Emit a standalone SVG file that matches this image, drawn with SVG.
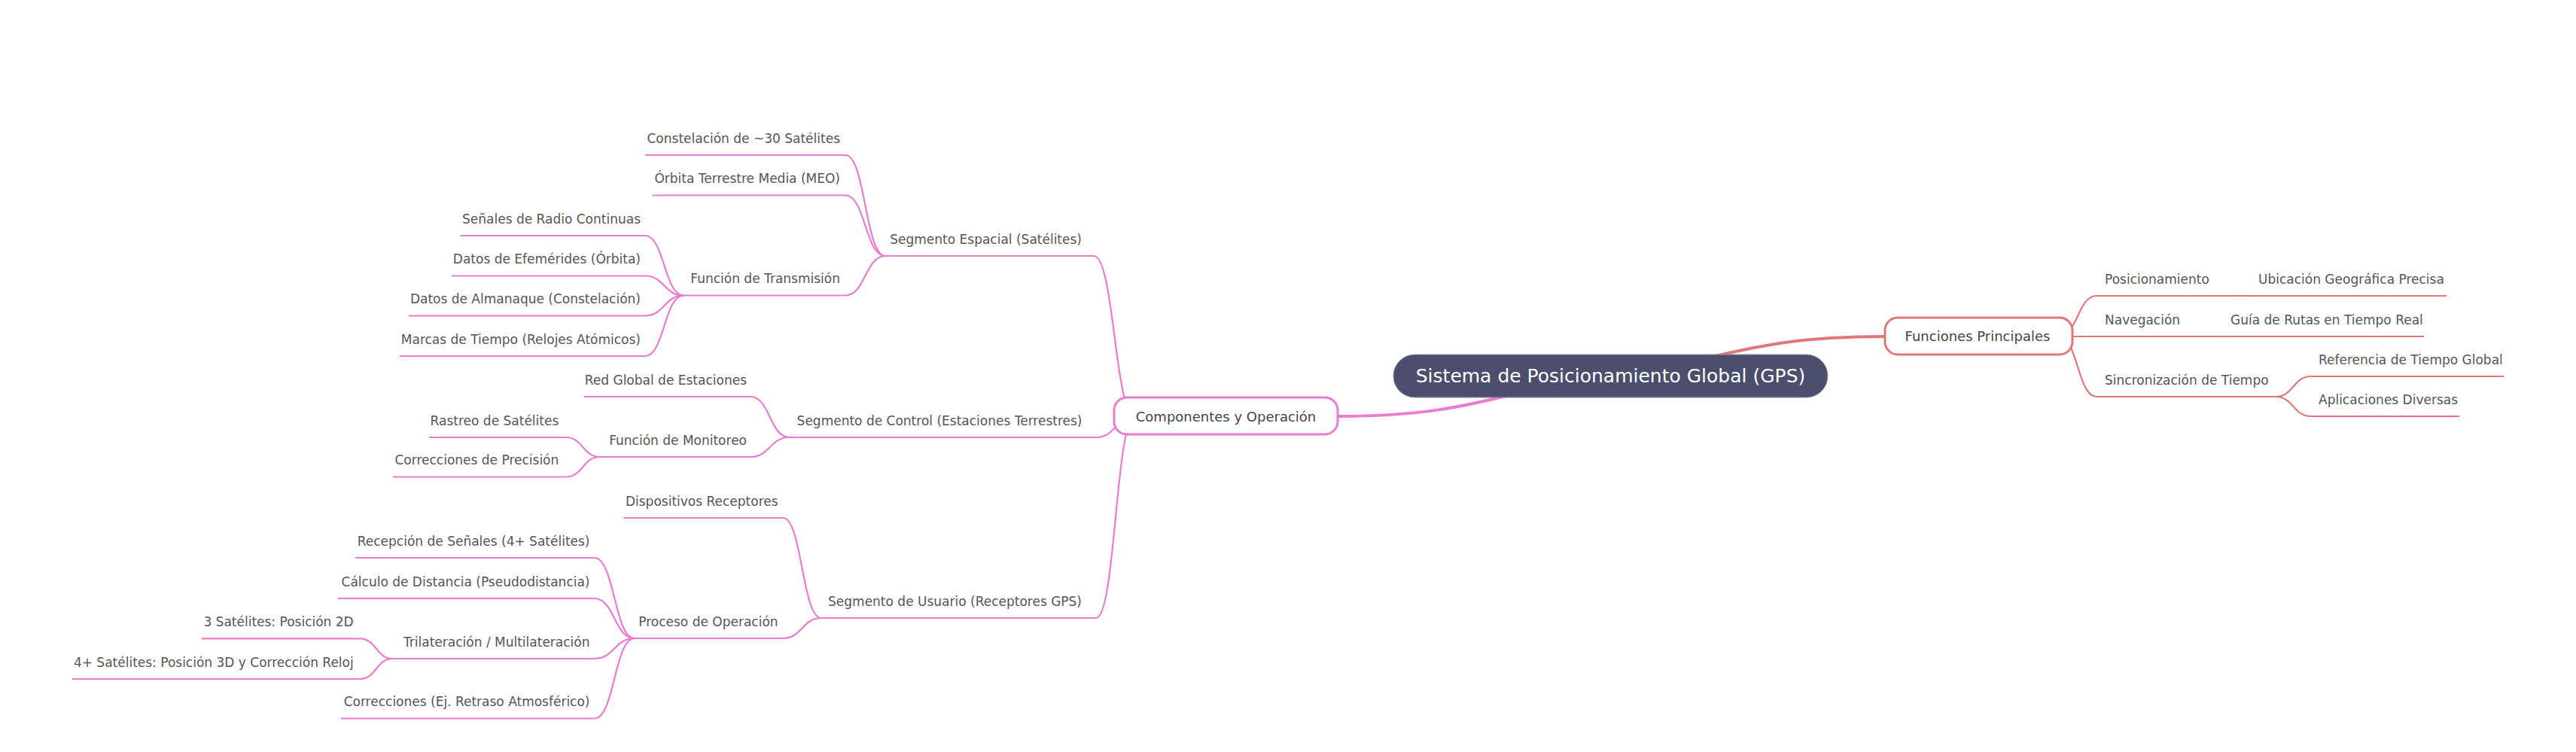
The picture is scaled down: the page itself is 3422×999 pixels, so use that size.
<svg xmlns="http://www.w3.org/2000/svg" width="3422" height="999" viewBox="0 0 3422 999">
<style>
  text { font-family: "DejaVu Sans", "Liberation Sans", sans-serif; fill: #555; font-size: 17px; }
  .l { text-anchor: end; }
  .c { text-anchor: middle; }
  .pk { stroke: #e97cd0; fill: none; stroke-width: 2.2; }
  .rd { stroke: #e07878; fill: none; stroke-width: 2.2; }
  .main { stroke-width: 4; }
  .box { fill: #fff; stroke-width: 3; }
  .bt { font-size: 18px; fill: #444; }
  .rt { font-size: 25px; fill: #fff; }
</style>
<rect width="3422" height="999" fill="#fff"/>
<g id="connectors">
  <path class="pk main" d="M2223 499.5 C2000 499.5 2000 553 1777 553"/>
  <path class="rd main" d="M2051 499.5 C2277.5 499.5 2277.5 447 2504 447"/>
  <!-- Funciones children -->
  <path class="rd" d="M2735 447 C2760 447 2760 393 2785 393"/>
  <path class="rd" d="M2735 447 L2753 447"/>
  <path class="rd" d="M2735 447 C2760 447 2760 527 2785 527"/>
  <path class="rd" d="M2960 393 L2985 393"/>
  <path class="rd" d="M2950 447 L2958 447"/>
  <path class="rd" d="M3023 527 C3046.5 527 3046.5 500 3070 500"/>
  <path class="rd" d="M3023 527 C3046.5 527 3046.5 553 3070 553"/>
  <!-- Componentes children -->
  <path class="pk" d="M1453 340 C1480.5 340 1480.5 553 1508 553"/>
  <path class="pk" d="M1456.6 581 C1482 581 1482 553 1508 553"/>
  <path class="pk" d="M1456 821 C1482 821 1482 553 1508 553"/>
  <!-- Segmento Espacial children -->
  <path class="pk" d="M1123 206 C1149.5 206 1149.5 340 1176 340"/>
  <path class="pk" d="M1123 259.5 C1149.5 259.5 1149.5 340 1176 340"/>
  <path class="pk" d="M1123 392.5 C1149.5 392.5 1149.5 340 1176 340"/>
  <!-- Funcion de Transmision children -->
  <path class="pk" d="M857 313 C882.5 313 882.5 392.5 908 392.5"/>
  <path class="pk" d="M857 366.5 C882.5 366.5 882.5 392.5 908 392.5"/>
  <path class="pk" d="M857 419.5 C882.5 419.5 882.5 392.5 908 392.5"/>
  <path class="pk" d="M857 473 C882.5 473 882.5 392.5 908 392.5"/>
  <!-- Segmento de Control children -->
  <path class="pk" d="M997 527 C1022.7 527 1022.7 581 1048.5 581"/>
  <path class="pk" d="M997 607 C1022.7 607 1022.7 581 1048.5 581"/>
  <path class="pk" d="M752 581 C774.3 581 774.3 607 796.6 607"/>
  <path class="pk" d="M752 633.5 C774.3 633.5 774.3 607 796.6 607"/>
  <!-- Segmento de Usuario children -->
  <path class="pk" d="M1040 688 C1065.5 688 1065.5 821 1091 821"/>
  <path class="pk" d="M1040 848 C1065.5 848 1065.5 821 1091 821"/>
  <path class="pk" d="M789.6 741 C816.3 741 816.3 848 843 848"/>
  <path class="pk" d="M789.6 795 C816.3 795 816.3 848 843 848"/>
  <path class="pk" d="M789.6 875 C816.3 875 816.3 848 843 848"/>
  <path class="pk" d="M789.6 954.5 C816.3 954.5 816.3 848 843 848"/>
  <path class="pk" d="M478 848.3 C499.8 848.3 499.8 875 521.7 875"/>
  <path class="pk" d="M478 902 C499.8 902 499.8 875 521.7 875"/>
</g>
<g id="root">
  <rect x="1851" y="471" width="577" height="57" rx="28.5" fill="#4b4e6c" stroke="#8d8fa3" stroke-width="1"/>
  <text class="rt c" x="2139.5" y="508">Sistema de Posicionamiento Global (GPS)</text>
</g>
<g id="funciones">
  <rect class="box rd" x="2504" y="422" width="249" height="49" rx="17"/>
  <text class="bt c" x="2627" y="453">Funciones Principales</text>
</g>
<g id="posicionamiento">
  <line class="rd" x1="2785" y1="393" x2="2960" y2="393"/>
  <text x="2796" y="376.5">Posicionamiento</text>
</g>
<g id="ubicacion">
  <line class="rd" x1="2985" y1="393" x2="3250" y2="393"/>
  <text x="3000" y="376.5">Ubicación Geográfica Precisa</text>
</g>
<g id="navegacion">
  <line class="rd" x1="2753" y1="447" x2="2950" y2="447"/>
  <text x="2796" y="430.5">Navegación</text>
</g>
<g id="guia">
  <line class="rd" x1="2958" y1="447" x2="3220" y2="447"/>
  <text x="2963" y="430.5">Guía de Rutas en Tiempo Real</text>
</g>
<g id="sincronizacion">
  <line class="rd" x1="2785" y1="527" x2="3023" y2="527"/>
  <text x="2796" y="510.5">Sincronización de Tiempo</text>
</g>
<g id="referencia">
  <line class="rd" x1="3070" y1="500" x2="3326" y2="500"/>
  <text x="3080" y="483.5">Referencia de Tiempo Global</text>
</g>
<g id="aplicaciones">
  <line class="rd" x1="3070" y1="553" x2="3267" y2="553"/>
  <text x="3080" y="536.5">Aplicaciones Diversas</text>
</g>
<g id="componentes">
  <rect class="box pk" x="1480" y="528" width="297" height="49" rx="17" style="stroke-width:3"/>
  <text class="bt c" x="1628.5" y="560">Componentes y Operación</text>
</g>
<g id="seg-espacial">
  <line class="pk" x1="1176" y1="340" x2="1453" y2="340"/>
  <text class="l" x="1437" y="323.5">Segmento Espacial (Satélites)</text>
</g>
<g id="constelacion">
  <line class="pk" x1="857" y1="206" x2="1123" y2="206"/>
  <text class="l" x="1116" y="189.5">Constelación de ~30 Satélites</text>
</g>
<g id="orbita">
  <line class="pk" x1="867" y1="259.5" x2="1123" y2="259.5"/>
  <text class="l" x="1116" y="243">Órbita Terrestre Media (MEO)</text>
</g>
<g id="transmision">
  <line class="pk" x1="908" y1="392.5" x2="1123" y2="392.5"/>
  <text class="l" x="1116" y="376">Función de Transmisión</text>
</g>
<g id="senales">
  <line class="pk" x1="611.6" y1="313" x2="857" y2="313"/>
  <text class="l" x="851" y="296.5">Señales de Radio Continuas</text>
</g>
<g id="efemerides">
  <line class="pk" x1="600" y1="366.5" x2="857" y2="366.5"/>
  <text class="l" x="851" y="350">Datos de Efemérides (Órbita)</text>
</g>
<g id="almanaque">
  <line class="pk" x1="543" y1="419.5" x2="857" y2="419.5"/>
  <text class="l" x="851" y="403">Datos de Almanaque (Constelación)</text>
</g>
<g id="marcas">
  <line class="pk" x1="531" y1="473" x2="857" y2="473"/>
  <text class="l" x="851" y="456.5">Marcas de Tiempo (Relojes Atómicos)</text>
</g>
<g id="seg-control">
  <line class="pk" x1="1048.5" y1="581" x2="1456.6" y2="581"/>
  <text class="l" x="1437.5" y="564.5">Segmento de Control (Estaciones Terrestres)</text>
</g>
<g id="red-global">
  <line class="pk" x1="775.5" y1="527" x2="997" y2="527"/>
  <text class="l" x="992" y="510.5">Red Global de Estaciones</text>
</g>
<g id="monitoreo">
  <line class="pk" x1="796.6" y1="607" x2="997" y2="607"/>
  <text class="l" x="992" y="590.5">Función de Monitoreo</text>
</g>
<g id="rastreo">
  <line class="pk" x1="570" y1="581" x2="752" y2="581"/>
  <text class="l" x="742.3" y="564.5">Rastreo de Satélites</text>
</g>
<g id="correcciones-precision">
  <line class="pk" x1="522" y1="633.5" x2="752" y2="633.5"/>
  <text class="l" x="742.3" y="617">Correcciones de Precisión</text>
</g>
<g id="seg-usuario">
  <line class="pk" x1="1091" y1="821" x2="1456" y2="821"/>
  <text class="l" x="1437" y="804.5">Segmento de Usuario (Receptores GPS)</text>
</g>
<g id="dispositivos">
  <line class="pk" x1="828.5" y1="688" x2="1040" y2="688"/>
  <text class="l" x="1033.6" y="671.5">Dispositivos Receptores</text>
</g>
<g id="proceso">
  <line class="pk" x1="843" y1="848" x2="1040" y2="848"/>
  <text class="l" x="1033.6" y="831.5">Proceso de Operación</text>
</g>
<g id="recepcion">
  <line class="pk" x1="472" y1="741" x2="789.6" y2="741"/>
  <text class="l" x="783.5" y="724.5">Recepción de Señales (4+ Satélites)</text>
</g>
<g id="calculo">
  <line class="pk" x1="449" y1="795" x2="789.6" y2="795"/>
  <text class="l" x="783.5" y="778.5">Cálculo de Distancia (Pseudodistancia)</text>
</g>
<g id="trilateracion">
  <line class="pk" x1="521.7" y1="875" x2="789.6" y2="875"/>
  <text class="l" x="783.5" y="858.5">Trilateración / Multilateración</text>
</g>
<g id="sat3">
  <line class="pk" x1="268" y1="848.3" x2="478" y2="848.3"/>
  <text class="l" x="469.7" y="831.8">3 Satélites: Posición 2D</text>
</g>
<g id="sat4">
  <line class="pk" x1="95.7" y1="902" x2="478" y2="902"/>
  <text class="l" x="469.7" y="885.5">4+ Satélites: Posición 3D y Corrección Reloj</text>
</g>
<g id="correcciones-atm">
  <line class="pk" x1="453" y1="954.5" x2="789.6" y2="954.5"/>
  <text class="l" x="783.5" y="938">Correcciones (Ej. Retraso Atmosférico)</text>
</g>
</svg>
